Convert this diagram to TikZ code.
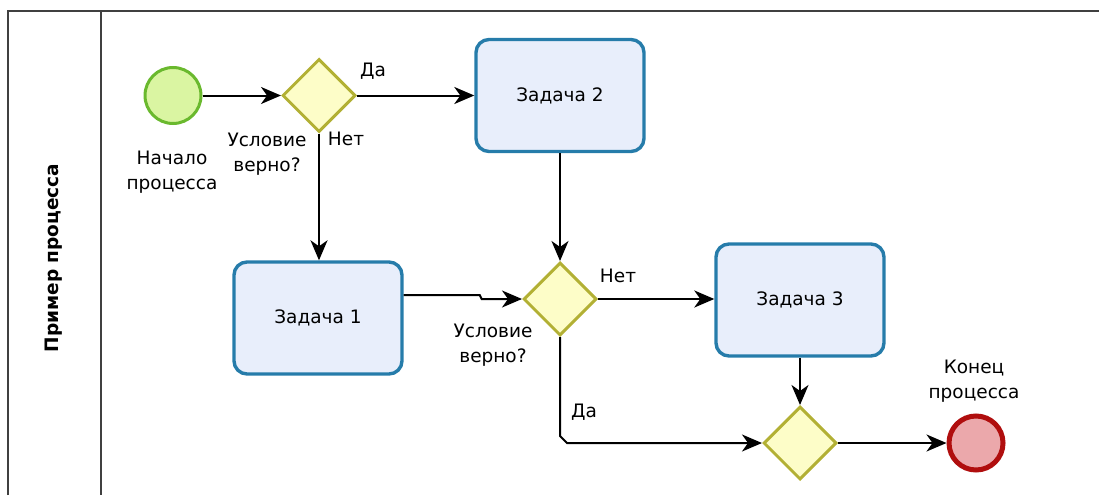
\documentclass[tikz,border=0pt]{standalone}
\usepackage{fontspec}
\setmainfont{DejaVu Sans}
\usetikzlibrary{arrows.meta,shapes.geometric}

\definecolor{startfill}{RGB}{218,245,162}
\definecolor{startline}{RGB}{106,185,46}
\definecolor{gatefill}{RGB}{253,253,200}
\definecolor{gateline}{RGB}{178,176,52}
\definecolor{taskfill}{RGB}{232,238,251}
\definecolor{taskline}{RGB}{38,124,170}
\definecolor{endfill}{RGB}{235,168,171}
\definecolor{endline}{RGB}{176,14,14}
\definecolor{poolline}{RGB}{64,64,64}

\begin{document}
\begin{tikzpicture}[x=1pt,y=-1pt,
  every node/.style={font=\fontsize{18.5}{25}\selectfont, text=black},
  startev/.style={circle, draw=startline, fill=startfill, line width=3pt,
    minimum size=56pt, inner sep=0pt},
  endev/.style={circle, draw=endline, fill=endfill, line width=5pt,
    minimum size=54pt, inner sep=0pt},
  gate/.style={diamond, aspect=1, draw=gateline, fill=gatefill, line width=3pt,
    minimum width=73pt, minimum height=73pt, inner sep=0pt},
  task/.style={rectangle, rounded corners=13pt, draw=taskline, fill=taskfill,
    line width=3.4pt, minimum width=168pt, minimum height=112pt, inner sep=0pt},
  lbl/.style={align=center, inner sep=0pt},
  flow/.style={draw=black, line width=2pt,
    -{Stealth[length=20pt, width=17pt, inset=6pt]}},
  pool/.style={draw=poolline, line width=2.4pt}
]
\useasboundingbox (0,0) rectangle (1099,495);

% pool frame and lane header
\draw[pool] (8,495) -- (8,11) -- (1099,11);
\draw[pool] (101,11) -- (101,495);
\node[rotate=90, font=\fontsize{18.5}{25}\selectfont\bfseries] (lane) at (54,258) {Пример процесса};

% flow objects
\node[startev] (start) at (173,95.5) {};
\node[gate] (g1) at (319,95.5) {};
\node[task] (t2) at (560,95.5) {Задача 2};
\node[task] (t1) at (318,318) {Задача 1};
\node[gate] (g2) at (560,299) {};
\node[task] (t3) at (800,300) {Задача 3};
\node[gate] (g3) at (800,443) {};
\node[endev] (end) at (976,443) {};

% labels
\node[lbl] (lstart) at (172,172) {Начало\\процесса};
\node[lbl] (lcond1) at (267,154) {Условие\\верно?};
\node[lbl] (lyes1) at (373,71) {Да};
\node[lbl] (lno1) at (346,139) {Нет};
\node[lbl] (lcond2) at (493,345) {Условие\\верно?};
\node[lbl] (lno2) at (618,276) {Нет};
\node[lbl] (lyes2) at (584,412) {Да};
\node[lbl] (lend) at (974,381) {Конец\\процесса};

% sequence flows
\draw[flow] (start.east) -- (g1.west);
\draw[flow] (g1.east) -- (t2.west |- g1.east);
\draw[flow] (g1.south) -- (t1.north -| g1.south);
\draw[flow] (t2.south) -- (g2.north);
\draw[flow] ([yshift=23pt]t1.east) -- ++(76,0) -- ++(2,4) -- (g2.west);
\draw[flow] (g2.east) -- (t3.west |- g2.east);
\draw[flow] (g2.south) -- (560,436) -- (567,443) -- (g3.west);
\draw[flow] (t3.south) -- (g3.north);
\draw[flow] (g3.east) -- (end.west);
\end{tikzpicture}
\end{document}
